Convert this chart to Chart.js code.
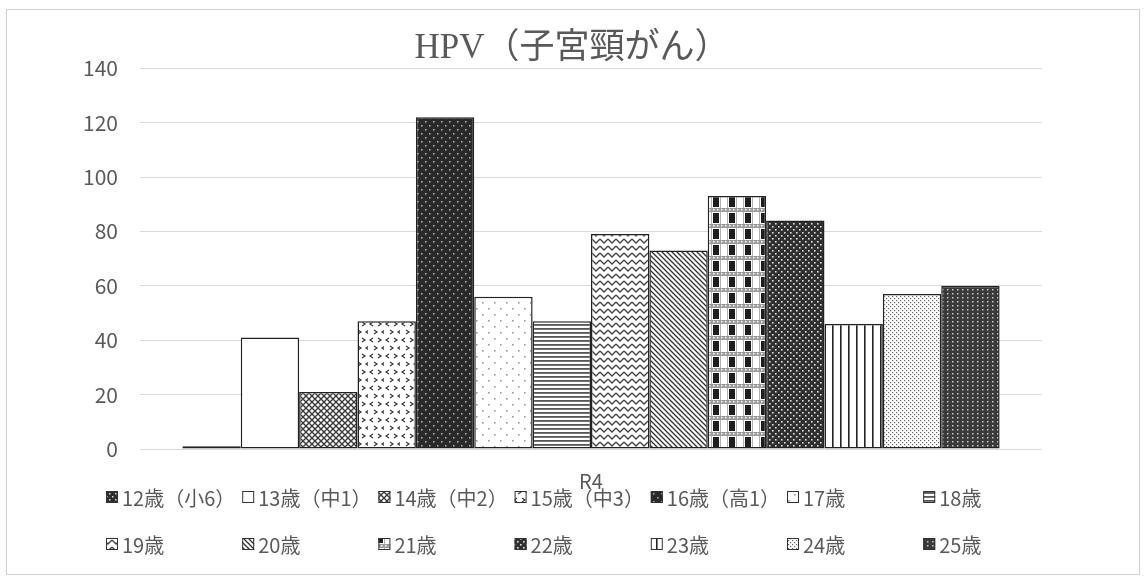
<!DOCTYPE html>
<html>
<head>
<meta charset="utf-8">
<script src="https://cdn.jsdelivr.net/npm/chart.js@4.4.0/dist/chart.umd.min.js"></script>
<style>
  html, body { margin: 0; padding: 0; background: #fff; }
  #wrap { width: 1144px; height: 580px; }
</style>
</head>
<body>
<div id="wrap"><canvas id="chart" width="1144" height="580"></canvas></div>
<script>
const chartTitle = 'HPV（子宮頸がん）';
const categories = ['R4'];
const seriesNames = ['12歳（小6）', '13歳（中1）', '14歳（中2）', '15歳（中3）', '16歳（高1）', '17歳', '18歳',
                     '19歳', '20歳', '21歳', '22歳', '23歳', '24歳', '25歳'];
const seriesValues = [1, 41, 21, 47, 122, 56, 47, 79, 73, 93, 84, 46, 57, 60];
const yMin = 0;
const yMax = 140;
const yStep = 20;

const textGray = '#595959';
const jpFont = "'Noto Sans CJK JP', 'Noto Sans', sans-serif";

// small repeating tiles for the black & white fills
function tile(w, h, bg, draw) {
    const c = document.createElement('canvas');
    c.width = w; c.height = h;
    const g = c.getContext('2d');
    g.fillStyle = bg;
    g.fillRect(0, 0, w, h);
    if (draw) draw(g);
    return g.createPattern(c, 'repeat');
}
function dots(g, pts, s, col) {
    g.fillStyle = col;
    pts.forEach(p => g.fillRect(p[0], p[1], s, s));
}
function lines(g, segs, lw, col) {
    g.strokeStyle = col;
    g.lineWidth = lw;
    g.beginPath();
    segs.forEach(s => { g.moveTo(s[0], s[1]); g.lineTo(s[2], s[3]); });
    g.stroke();
}
function chevron(g, x, y, dir) {
    g.beginPath();
    if (dir > 0) { g.moveTo(x, y); g.lineTo(x + 3, y + 2); g.lineTo(x, y + 4); }
    else { g.moveTo(x + 3, y); g.lineTo(x, y + 2); g.lineTo(x + 3, y + 4); }
    g.stroke();
}

const fills = [
    tile(6, 6, '#2e2e2e', g => dots(g, [[1, 1], [4, 4]], 1.5, '#dddddd')),
    '#ffffff',
    tile(6, 6, '#ffffff', g => lines(g, [[-1, -1, 7, 7], [7, -1, -1, 7]], 1.4, '#3a3a3a')),
    tile(16, 16, '#ffffff', g => {
        g.strokeStyle = '#333'; g.lineWidth = 1.2;
        chevron(g, 2, 2, -1); chevron(g, 10, 2, 1);
        chevron(g, 6, 10, 1); chevron(g, 14, 10, -1);
    }),
    tile(8, 8, '#2a2a2a', g => dots(g, [[1, 1], [5, 5]], 1.6, '#a8a8a8')),
    tile(12, 12, '#ffffff', g => dots(g, [[2, 2], [8, 8]], 1.6, '#999999')),
    tile(4, 4, '#ffffff', g => { g.fillStyle = '#555'; g.fillRect(0, 0, 4, 1.8); }),
    tile(8, 7, '#ffffff', g => {
        g.strokeStyle = '#444'; g.lineWidth = 1.3;
        g.beginPath(); g.moveTo(0, 1); g.lineTo(4, 5); g.lineTo(8, 1); g.stroke();
    }),
    tile(5, 5, '#ffffff', g => lines(g, [[-1, -1, 6, 6], [-1, 4, 1, 6], [4, -1, 6, 1]], 1.3, '#333')),
    tile(16, 16, '#ffffff', g => {
        g.fillStyle = '#9a9a9a'; g.fillRect(0, 0, 16, 4);
        dots(g, [[1, 1], [5, 1], [9, 1], [13, 1]], 1.5, '#ffffff');
        g.fillStyle = '#b0b0b0'; g.fillRect(0, 4, 1, 12); g.fillRect(7, 4, 1, 12);
        g.fillStyle = '#1e1e1e'; g.fillRect(9, 5, 6, 10);
    }),
    tile(6, 6, '#2f2f2f', g => dots(g, [[1, 1], [4, 4]], 1.6, '#e0e0e0')),
    tile(8, 4, '#ffffff', g => { g.fillStyle = '#222'; g.fillRect(0, 0, 1.6, 4); }),
    tile(4, 4, '#ffffff', g => dots(g, [[0, 0], [2, 2]], 1.2, '#666666')),
    tile(5, 4, '#3a3a3a', g => dots(g, [[2, 1]], 1.5, '#c8c8c8'))
];

const datasets = seriesNames.map((name, i) => ({
    label: name,
    data: [seriesValues[i]],
    backgroundColor: fills[i],
    borderColor: '#222222',
    borderWidth: 1.5,
    borderSkipped: false
}));

// light frame around the whole chart
const framePlugin = {
    id: 'frame',
    beforeDraw(chart) {
        const ctx = chart.ctx;
        ctx.save();
        ctx.fillStyle = '#ffffff';
        ctx.fillRect(0, 0, chart.width, chart.height);
        ctx.strokeStyle = '#d0d0d0';
        ctx.lineWidth = 1;
        ctx.strokeRect(6.5, 9.5, 1133, 565);
        ctx.restore();
    }
};

// legend laid out on a fixed grid, 7 columns x 2 rows
const gridLegend = {
    id: 'gridLegend',
    afterDraw(chart) {
        const ctx = chart.ctx;
        ctx.save();
        ctx.font = '20px ' + jpFont;
        ctx.textBaseline = 'middle';
        chart.data.datasets.forEach((ds, i) => {
            const col = i % 7;
            const row = Math.floor(i / 7);
            const x = 106 + col * 136.2;
            const y = row === 0 ? 497 : 544;
            ctx.fillStyle = ds.backgroundColor;
            ctx.fillRect(x, y - 6, 12, 12);
            ctx.strokeStyle = '#333';
            ctx.lineWidth = 1;
            ctx.strokeRect(x + 0.5, y - 5.5, 11, 11);
            ctx.fillStyle = textGray;
            ctx.fillText(ds.label, x + 16, y + 1);
        });
        ctx.restore();
    }
};

new Chart(document.getElementById('chart'), {
    type: 'bar',
    data: {
        labels: categories,
        datasets: datasets
    },
    options: {
        responsive: false,
        animation: false,
        categoryPercentage: 0.906,
        barPercentage: 1.0,
        layout: {
            padding: 0
        },
        scales: {
            x: {
                grid: { display: false, drawTicks: false },
                border: { display: false },
                ticks: {
                    color: textGray,
                    padding: 20,
                    font: { family: jpFont, size: 20 }
                },
                afterFit: s => { s.height = 131; }
            },
            y: {
                min: yMin,
                max: yMax,
                grid: { color: '#d9d9d9', lineWidth: 1, drawTicks: false },
                border: { display: false },
                ticks: {
                    stepSize: yStep,
                    color: textGray,
                    padding: 22,
                    font: { family: jpFont, size: 21 }
                },
                afterFit: s => { s.width = 140; }
            },
            // empty right-hand axis, only keeps the plot clear of the right margin
            yRight: {
                position: 'right',
                min: yMin,
                max: yMax,
                grid: { display: false, drawTicks: false },
                border: { display: false },
                ticks: { display: false },
                afterFit: s => { s.width = 102; }
            }
        },
        plugins: {
            legend: { display: false },
            tooltip: { enabled: false },
            title: {
                display: true,
                text: chartTitle,
                color: textGray,
                padding: { top: 29, bottom: 0 },
                font: { family: "'Liberation Serif', 'Noto Sans CJK JP', serif", size: 35, weight: 'normal', lineHeight: 1.12 }
            }
        }
    },
    plugins: [framePlugin, gridLegend]
});
</script>
</body>
</html>
